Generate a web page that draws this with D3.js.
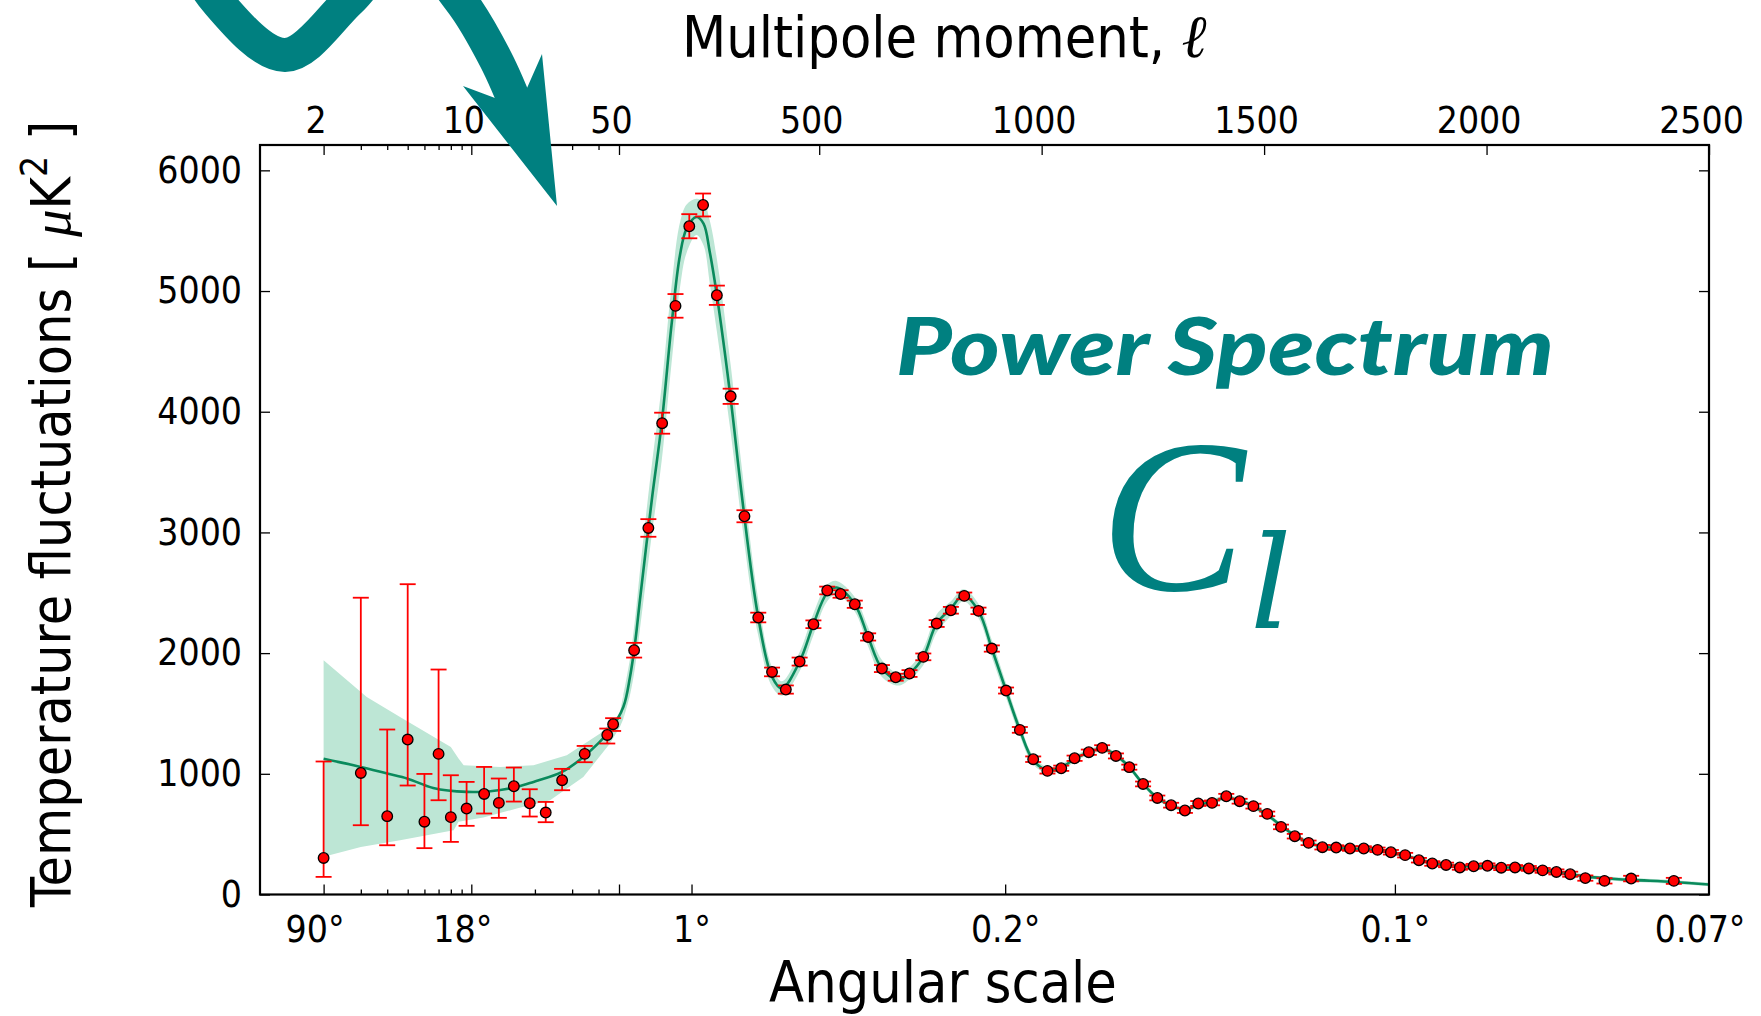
<!DOCTYPE html>
<html><head><meta charset="utf-8">
<script src="https://cdn.jsdelivr.net/npm/d3@7"></script>
<style>
html,body{margin:0;padding:0;background:#fff;}
svg{display:block;}
.lbl{font-family:"DejaVu Sans Condensed","DejaVu Sans",sans-serif;font-stretch:condensed;fill:#000;}
</style></head>
<body>
<svg id="chart" width="1761" height="1016"></svg>
<script>
// ---------------- data ----------------
// binned data points: multipole and D_l [muK^2]
const lowEll   = [2,3,4,5,6,7,8,9.5,11.5,13.5,15.9,18.9,22.5,26.9,34.4,44,46.9];
const lowD     = [303,1007,649,1284,603,1165,641,712,833,759,897,756,679,947,1165,1322,1411];
const lowErrLo = [146,574,408,903,384,781,436,569,671,635,770,646,599,864,1096,1251,1355];
const lowErrHi = [1102,2459,1367,2571,999,1864,988,933,1057,961,1052,872,767,1041,1231,1375,1461];

const highEll = [84,116,147,177,208,239,270,301,332,363,
  394,425,456,487,518,548,580,610,641,672,
  703,734,764,796,826,858,888,920,951,981,
  1013,1044,1074,1106,1136,1167,1197,1228,1260,1291,
  1322,1352,1383,1415,1445,1476,1507,1538,1569,1600,
  1631,1662,1693,1724,1755,1785,1817,1848,1878,1909,
  1940,1971,2002,2033,2064,2095,2126,2157,2188,2222,
  2265,2325,2421];
const highD = [2024,3037,3905,4877,5537,5713,4965,4128,3134,2295,
  1844,1698,1930,2239,2519,2490,2405,2134,1872,1800,
  1831,1969,2245,2355,2474,2350,2038,1690,1364,1121,
  1024,1046,1129,1179,1215,1148,1055,916,800,740,
  696,754,759,814,773,732,668,560,483,428,
  392,389,381,381,370,350,326,284,257,245,
  224,234,238,222,224,216,200,187,168,136,
  113,132,113];
const highErr = [61,73,87,98,100,95,80,63,50,40,
  36,34,33,32,32,31,30,30,29,29,
  28,28,28,28,28,27,26,25,24,23,
  22,22,22,22,22,21,21,20,20,20,
  20,20,20,20,20,20,19,19,19,19,
  19,19,19,19,19,19,19,19,19,19,
  19,20,20,20,20,20,20,21,21,22,
  22,23,25];

// best-fit model curve
const thEll = [2,3,4,5,6.6,9.5,12.3,16.4,19.7,26.9,33.9,45.3,59.7,74.7,86,97,110,125,146,168,
  187,202,224,240,254,270,301,326,363,394,416,456,487,517,539,580,610,641,678,703,
  734,764,796,824,858,888,920,951,981,1013,1044,1074,1106,1136,1167,1197,1228,1260,1290,1320,
  1352,1383,1414,1445,1476,1507,1538,1569,1600,1631,1662,1693,1724,1755,1785,1817,1848,1878,1909,1940,
  1971,2002,2033,2064,2095,2126,2157,2188,2222,2265,2326,2421,2500];
const thD = [1124,1057,1002,960,883,850,856,891,933,1016,1140,1361,1554,1803,2080,2438,2850,3308,3905,4717,
  5297,5518,5614,5559,5324,4965,4109,3308,2295,1803,1707,1930,2239,2494,2543,2405,2134,1872,1781,1831,
  1969,2245,2369,2480,2350,2038,1690,1364,1113,1030,1052,1124,1179,1207,1155,1055,916,800,740,705,
  740,770,800,780,730,660,570,490,430,398,385,380,376,366,348,322,290,262,245,236,
  233,232,227,221,212,199,184,168,150,135,121,104,83];
// half width of the shaded band, for model nodes from l = 59.7 onward
const bandHalf = [100,150,200,240,270,290,310,320,270,200,
  150,180,260,300,280,230,150,80,60,80,
  90,70,55,60,80,70,50,50,70,75,
  60,50,60,70,60,50,35,25,25,25,
  22,22,22,22,20,20,20,20,20,20,
  20,20,20,20,20,20,20,20,
  18,18,18,18,18,18,18,18,18,18,
  16,16,16,16,16,16,16,16,16,16,
  15,15,15];
// low-l band edges
const bandTopEll = [2,3.2,4.6,8.0,8.7,9.2,13.7,19.7,28.3,40.7,52,59.7];
const bandTopD   = [1941,1637,1471,1223,1127,1071,1057,1071,1154,1334,1500,1654];
const bandBotEll = [2,3,4.6,8.25,8.7,11.4,16.4,23.6,33.9,45.3,52.2,59.7];
const bandBotD   = [312,394,450,533,602,638,712,781,974,1251,1389,1454];

// axis ticks
const yTicks = [0,1000,2000,3000,4000,5000,6000];
const topLogTicks = [2,10];
const topLinTicks = [50,500,1000,1500,2000,2500];
const minorLogTicks = [3,4,5,6,7,8,9,20,30,40];
const bottomLogTicks = [2,10];
const bottomLogLabels = ["90°","18°"];
const bottomLinTicks = [50,213,918,1794];
const bottomLinLabels = ["","1°","0.2°","0.1°"];
const bottomEndLabel = {ell:2480, text:"0.07°"};

// ---------------- scales ----------------
const svg = d3.select("#chart");
const P = {left:260, right:1709, top:145, bottom:894.5, split:619};
const xLog = d3.scaleLog().domain([1,50]).range([P.left,P.split]);
const xLin = d3.scaleLinear().domain([50,2500]).range([P.split,P.right]);
const x = l => (l <= 50 ? xLog(l) : xLin(l));
const y = d3.scaleLinear().domain([0,6210]).range([P.bottom,P.top]);

const teal = "#008080", lineCol = "#0a8a5c", bandCol = "#bde6d5", red = "#ff0000";

svg.append("defs").append("clipPath").attr("id","clip")
  .append("rect").attr("x",P.left).attr("y",P.top)
  .attr("width",P.right-P.left).attr("height",P.bottom-P.top);

const plotG = svg.append("g").attr("clip-path","url(#clip)");

// ---------------- band ----------------
const lowBand = bandTopEll.map((l,i)=>[x(l),y(bandTopD[i])])
  .concat(bandBotEll.map((l,i)=>[x(l),y(bandBotD[i])]).reverse());
plotG.append("path").attr("d", d3.line()(lowBand) + "Z").attr("fill",bandCol);

const hiNodes = thEll.map((l,i)=>({l, d:thD[i]})).slice(12).map((n,i)=>({...n, h:bandHalf[i]}));
plotG.append("path").datum(hiNodes)
  .attr("d", d3.area().x(n=>x(n.l)).y0(n=>y(n.d-n.h)).y1(n=>y(n.d+n.h)).curve(d3.curveCatmullRom.alpha(0.5)))
  .attr("fill",bandCol);

// ---------------- model line ----------------
plotG.append("path").datum(thEll.map((l,i)=>[x(l),y(thD[i])]))
  .attr("d", d3.line().curve(d3.curveCatmullRom.alpha(0.5)))
  .attr("fill","none").attr("stroke",lineCol).attr("stroke-width",2.6);

// ---------------- data points with error bars ----------------
const pts = lowEll.map((l,i)=>({l, d:lowD[i], lo:lowErrLo[i], hi:lowErrHi[i]}))
  .concat(highEll.map((l,i)=>({l, d:highD[i], lo:highD[i]-highErr[i], hi:highD[i]+highErr[i]})));

const eb = svg.append("g").attr("stroke",red).attr("stroke-width",1.8);
pts.forEach(p=>{
  const px = x(p.l);
  eb.append("line").attr("x1",px).attr("x2",px).attr("y1",y(p.lo)).attr("y2",y(p.hi));
  eb.append("line").attr("x1",px-8).attr("x2",px+8).attr("y1",y(p.lo)).attr("y2",y(p.lo));
  eb.append("line").attr("x1",px-8).attr("x2",px+8).attr("y1",y(p.hi)).attr("y2",y(p.hi));
});
svg.append("g").selectAll("circle").data(pts).join("circle")
  .attr("cx",p=>x(p.l)).attr("cy",p=>y(p.d)).attr("r",5.3)
  .attr("fill",red).attr("stroke","#000").attr("stroke-width",1.3);

// ---------------- axes ----------------
function styleAxis(g){
  g.select(".domain").remove();
  g.selectAll(".tick line").attr("stroke","#000").attr("stroke-width",1.3);
  g.selectAll(".tick text").attr("class","lbl").attr("font-size",37).attr("fill","#000");
}
// top
svg.append("g").attr("transform",`translate(0,${P.top})`)
  .call(d3.axisTop(xLog).tickValues(topLogTicks).tickSize(-10).tickPadding(12).tickFormat(d3.format("d")))
  .call(styleAxis).selectAll(".tick text").attr("dx",-8);
svg.append("g").attr("transform",`translate(0,${P.top})`)
  .call(d3.axisTop(xLin).tickValues(topLinTicks).tickSize(-10).tickPadding(12).tickFormat(d3.format("d")))
  .call(styleAxis).selectAll(".tick text").attr("dx",-8);
svg.append("g").attr("transform",`translate(0,${P.top})`)
  .call(d3.axisTop(xLog).tickValues(minorLogTicks).tickSize(-5).tickFormat(""))
  .call(styleAxis);
// bottom
svg.append("g").attr("transform",`translate(0,${P.bottom})`)
  .call(d3.axisBottom(xLog).tickValues(bottomLogTicks).tickSize(-10).tickPadding(21)
    .tickFormat((d,i)=>bottomLogLabels[i]))
  .call(styleAxis).selectAll(".tick text").attr("dx",-9);
svg.append("g").attr("transform",`translate(0,${P.bottom})`)
  .call(d3.axisBottom(xLin).tickValues(bottomLinTicks).tickSize(-10).tickPadding(21)
    .tickFormat((d,i)=>bottomLinLabels[i]))
  .call(styleAxis);
svg.append("g").attr("transform",`translate(0,${P.bottom})`)
  .call(d3.axisBottom(xLog).tickValues(minorLogTicks).tickSize(-5).tickFormat(""))
  .call(styleAxis);
svg.append("text").attr("class","lbl").attr("font-size",37)
  .attr("x",xLin(bottomEndLabel.ell)).attr("y",P.bottom+21).attr("dy","0.71em")
  .attr("text-anchor","middle").text(bottomEndLabel.text);
// left / right
svg.append("g").attr("transform",`translate(${P.left},0)`)
  .call(d3.axisLeft(y).tickValues(yTicks).tickSize(-10).tickPadding(18).tickFormat(d3.format("d")))
  .call(styleAxis);
svg.append("g").attr("transform",`translate(${P.right},0)`)
  .call(d3.axisRight(y).tickValues(yTicks).tickSize(-10).tickFormat(""))
  .call(styleAxis);

// frame
svg.append("rect").attr("x",P.left).attr("y",P.top)
  .attr("width",P.right-P.left).attr("height",P.bottom-P.top)
  .attr("fill","none").attr("stroke","#000").attr("stroke-width",2.2);

// ---------------- titles ----------------
const tTop = svg.append("text").attr("class","lbl").attr("font-size",57).attr("x",682).attr("y",57);
tTop.append("tspan").text("Multipole moment, ");
tTop.append("tspan").attr("font-family","'DejaVu Serif',serif").attr("font-style","italic").attr("font-size",60).text("ℓ");

svg.append("text").attr("class","lbl").attr("font-size",57).attr("x",943).attr("y",1002)
  .attr("text-anchor","middle").text("Angular scale");

const tY = svg.append("text").attr("class","lbl").attr("font-size",55)
  .attr("transform","translate(70,514) rotate(-90)").attr("text-anchor","middle");
tY.append("tspan").text("Temperature fluctuations [ ");
tY.append("tspan").attr("font-family","'Liberation Serif',serif").attr("font-style","italic").text("μ");
tY.append("tspan").text("K");
tY.append("tspan").attr("font-size",37).attr("dy",-23).text("2");
tY.append("tspan").attr("dy",23).text(" ]");

// ---------------- annotations ----------------
svg.append("text").attr("x",896).attr("y",375)
  .attr("font-family","Lato, 'Open Sans', sans-serif").attr("font-weight",900).attr("font-style","italic")
  .attr("font-size",80).attr("fill",teal).attr("textLength",658).attr("lengthAdjust","spacingAndGlyphs")
  .text("Power Spectrum");
svg.append("text").attr("x",1100).attr("y",590)
  .attr("font-family","'Liberation Serif',serif").attr("font-style","italic")
  .attr("font-size",218).attr("fill",teal).text("C");
svg.append("text").attr("x",1250).attr("y",628)
  .attr("font-family","'DejaVu Serif',serif").attr("font-style","italic")
  .attr("font-size",130).attr("fill",teal).text("l");

// ---------------- arrow ----------------
const arrowPts = [[170,-80],[216,0],[285,55],[350,0],[405,-55],[460,0],[496,60],[520,115]];
svg.append("path").attr("d", d3.line().curve(d3.curveCatmullRom.alpha(0.5))(arrowPts))
  .attr("fill","none").attr("stroke",teal).attr("stroke-width",34);
const head = [[463,86],[557,206],[542,54],[527,88],[495,98]];
svg.append("path").attr("d", d3.line()(head)+"Z").attr("fill",teal);
</script>
</body></html>
